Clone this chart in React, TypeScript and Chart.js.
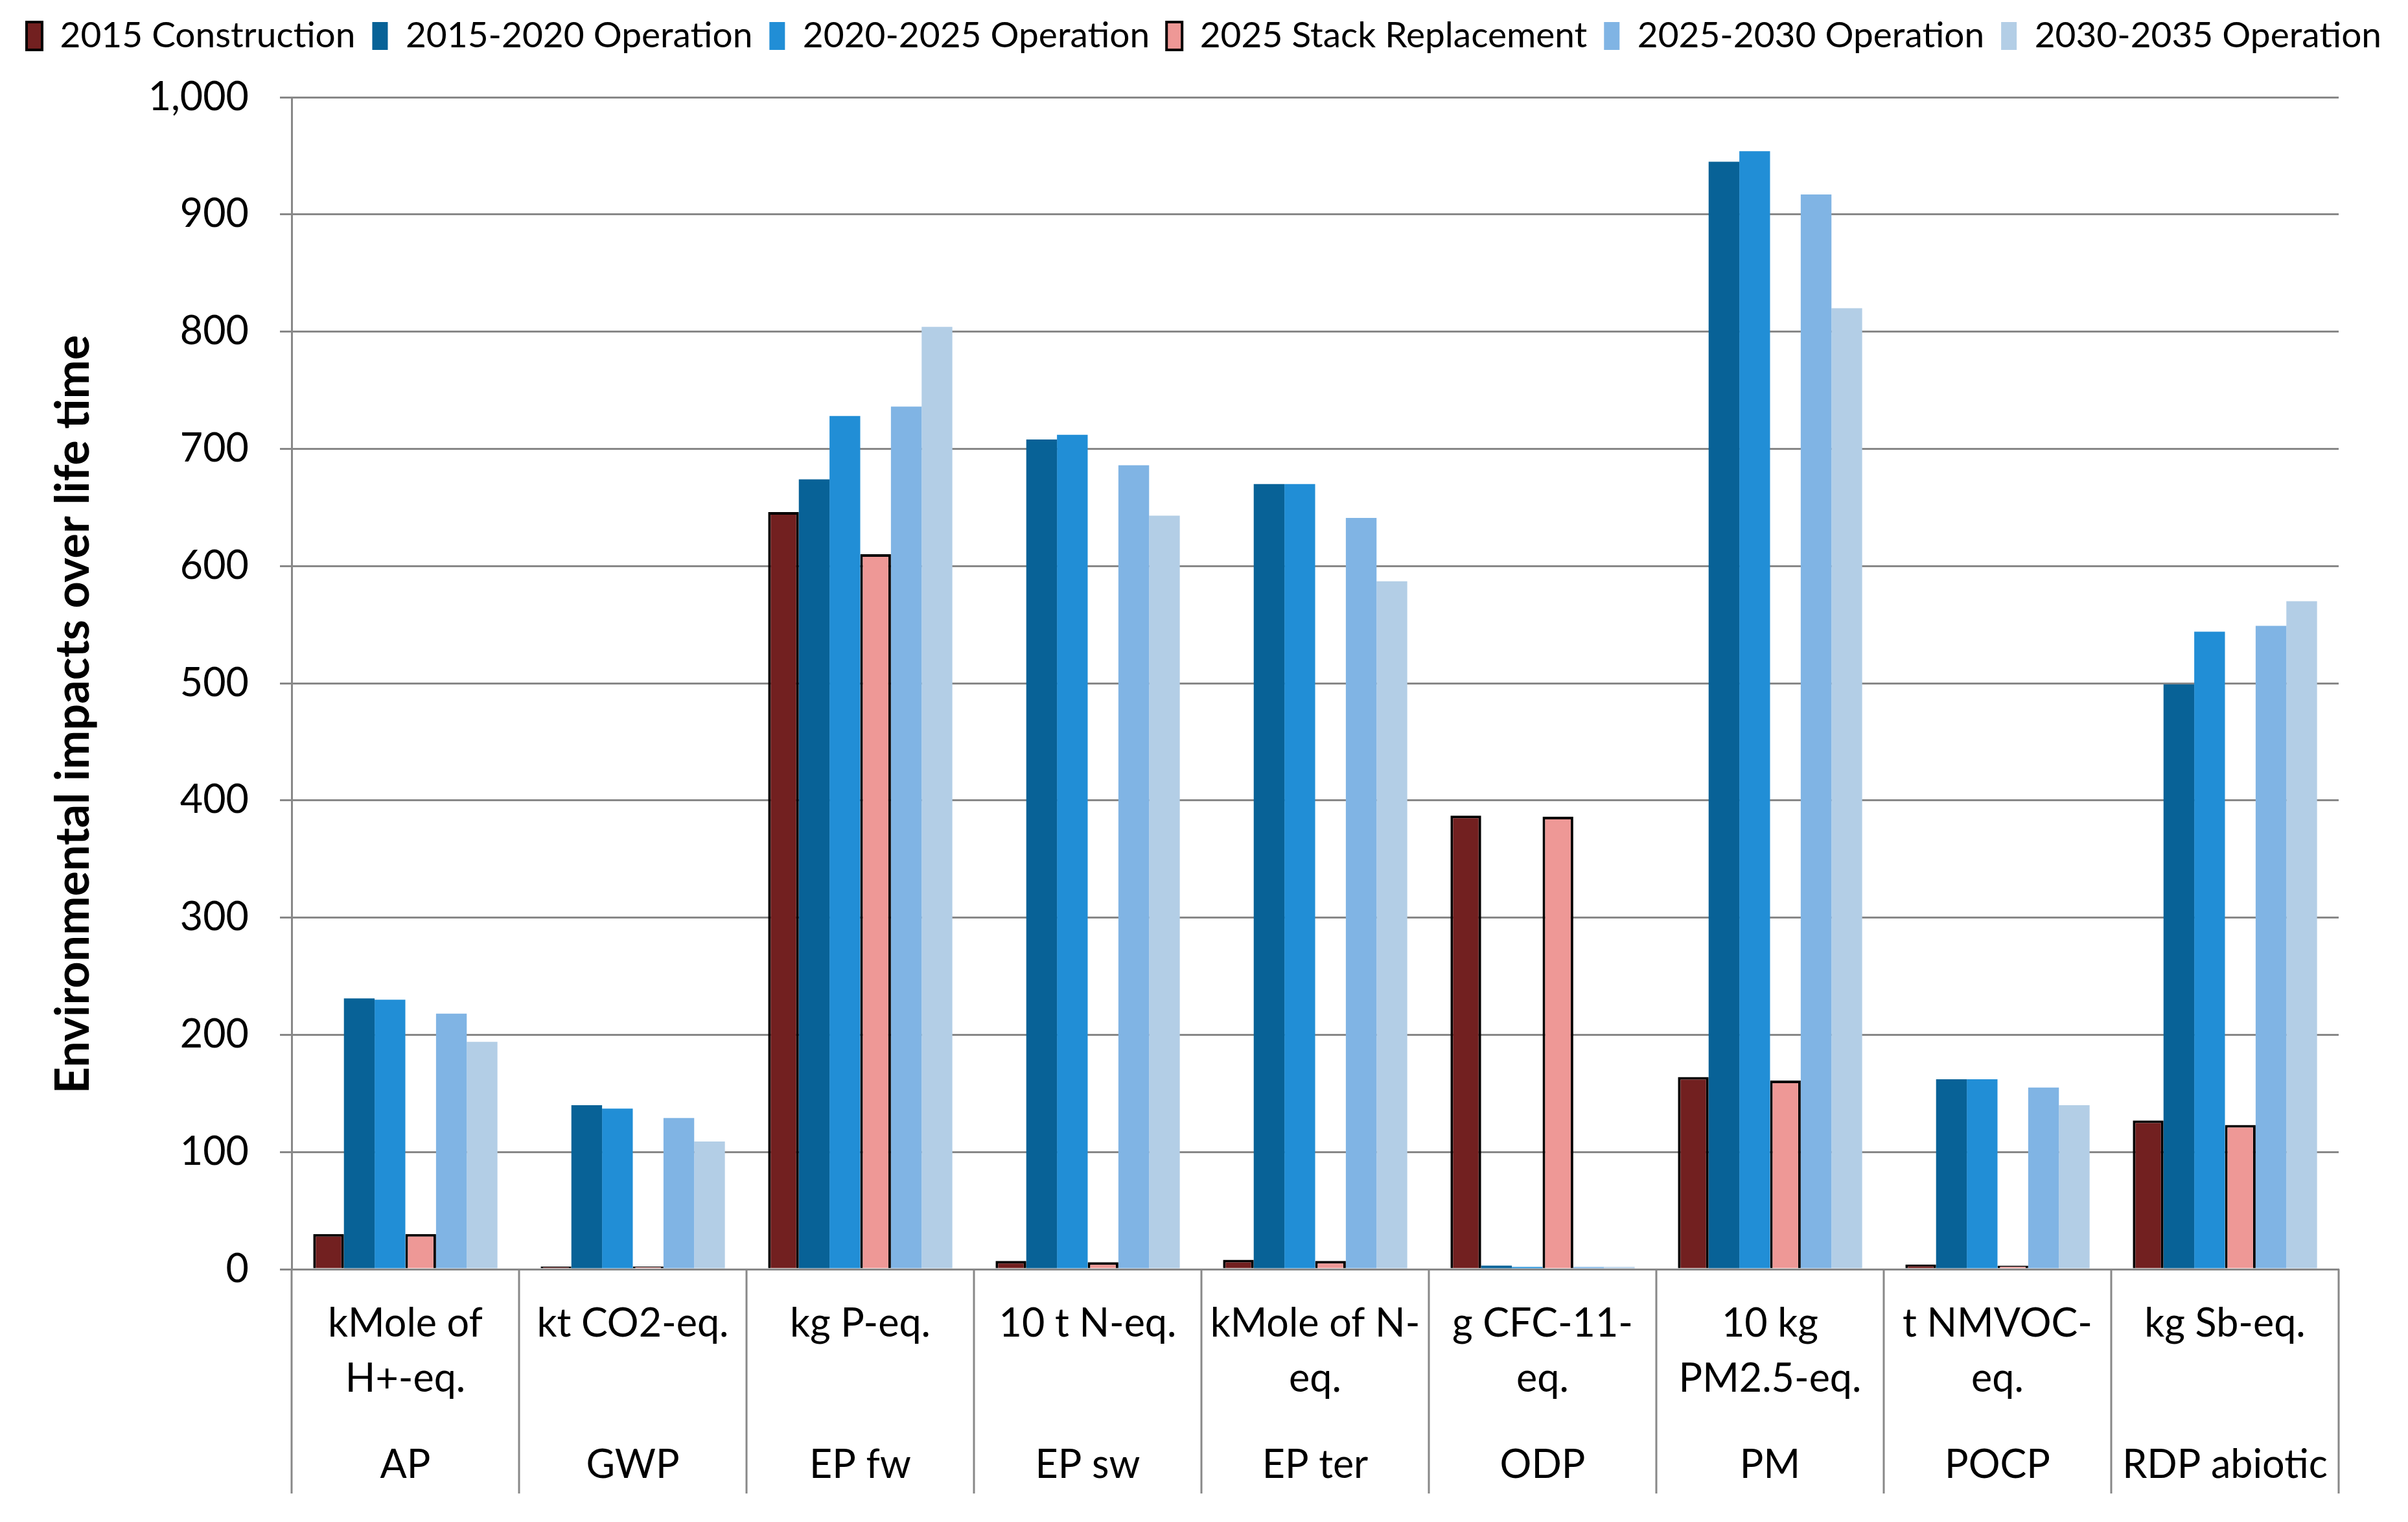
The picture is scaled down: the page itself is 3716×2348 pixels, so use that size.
import React, { useEffect, useRef } from "react";
import { Chart, registerables } from "chart.js";

Chart.register(...registerables);

const W = 3716;
const H = 2348;

const categories = ["AP", "GWP", "EP fw", "EP sw", "EP ter", "ODP", "PM", "POCP", "RDP abiotic"];
const unitLabels = [
  ["kMole of", "H+-eq."],
  ["kt CO2-eq."],
  ["kg P-eq."],
  ["10 t N-eq."],
  ["kMole of N-", "eq."],
  ["g CFC-11-", "eq."],
  ["10 kg", "PM2.5-eq."],
  ["t NMVOC-", "eq."],
  ["kg Sb-eq."],
];

const seriesNames = [
  "2015 Construction",
  "2015-2020 Operation",
  "2020-2025 Operation",
  "2025 Stack Replacement",
  "2025-2030 Operation",
  "2030-2035 Operation",
];

const construction2015 = [30, 1, 646, 7, 8, 387, 164, 4, 127];
const operation2015_2020 = [231, 140, 674, 708, 670, 3, 945, 162, 499];
const operation2020_2025 = [230, 137, 728, 712, 670, 2, 954, 162, 544];
const stackReplacement2025 = [30, 1, 610, 6, 7, 386, 161, 3, 123];
const operation2025_2030 = [218, 129, 736, 686, 641, 2, 917, 155, 549];
const operation2030_2035 = [194, 109, 804, 643, 587, 2, 820, 140, 570];

const yMin = 0;
const yMax = 1000;
const yStep = 100;
const yTitle = "Environmental impacts over life time";

const seriesColors = ["#722020", "#086297", "#218ED6", "#EE9896", "#80B4E4", "#B3CEE6"];
const seriesBordered = [true, false, false, true, false, false];

const FONT = "Lato";
const GRID = "#888888";

export default function App() {
  const ref = useRef<HTMLCanvasElement | null>(null);

  useEffect(() => {
    document.body.style.margin = "0";
    const canvas = ref.current;
    if (!canvas) return;

    const values = [
      construction2015,
      operation2015_2020,
      operation2020_2025,
      stackReplacement2025,
      operation2025_2030,
      operation2030_2035,
    ];

    const legendSpace = {
      id: "legendSpace",
      beforeLayout(chart: any) {
        const lg = chart.legend;
        if (lg && !lg.__wrapped) {
          const orig = lg.fit;
          lg.fit = function () {
            orig.call(this);
            this.height = 148;
          };
          lg.__wrapped = true;
        }
      },
    };

    const extras = {
      id: "extras",
      afterDraw(chart: any) {
        const x = chart.scales.x;
        const x2 = chart.scales.x2;
        const ctx = chart.ctx;
        const area = chart.chartArea;
        ctx.save();
        ctx.strokeStyle = GRID;
        ctx.lineWidth = 3;
        for (let i = 0; i <= categories.length; i++) {
          const px = x.getPixelForValue(i - 0.5);
          ctx.beginPath();
          ctx.moveTo(px, area.bottom);
          ctx.lineTo(px, x2.bottom);
          ctx.stroke();
        }
        ctx.restore();

        ctx.save();
        ctx.translate(114, (area.top + area.bottom) / 2 + 48);
        ctx.rotate(-Math.PI / 2);
        ctx.font = `bold 72px ${FONT}`;
        ctx.fillStyle = "#000000";
        ctx.textAlign = "center";
        ctx.textBaseline = "middle";
        ctx.fillText(yTitle, 0, 0);
        ctx.restore();
      },
    };

    const chart = new Chart(canvas, {
      type: "bar",
      data: {
        labels: categories,
        datasets: seriesNames.map((name, i) => ({
          label: name,
          data: values[i],
          backgroundColor: seriesColors[i],
          borderColor: "#000000",
          borderWidth: seriesBordered[i] ? 4 : 0,
          minBarLength: seriesBordered[i] ? 4 : 0,
          categoryPercentage: 0.81,
          barPercentage: 1.0,
          xAxisID: "x",
          yAxisID: "y",
        })),
      },
      options: {
        responsive: false,
        animation: false,
        devicePixelRatio: 1,
        layout: { padding: { top: 2, left: 0, right: 0, bottom: 44 } },
        plugins: {
          legend: {
            position: "top",
            labels: {
              font: { family: FONT, size: 55 },
              color: "#000000",
              boxWidth: 24,
              boxHeight: 43,
              padding: 26,
            },
          },
          tooltip: { enabled: false },
        },
        scales: {
          x: {
            type: "category",
            position: "bottom",
            weight: 0,
            offset: true,
            grid: { display: false, drawTicks: false, offset: true },
            border: { display: true, color: GRID, width: 3 },
            ticks: {
              color: "#000000",
              font: { family: FONT, size: 61, lineHeight: 1.39 },
              padding: 42,
              maxRotation: 0,
              minRotation: 0,
              autoSkip: false,
              callback: (_v: any, i: number) => unitLabels[i],
            },
            afterFit: (s: any) => {
              s.height = 230;
            },
          },
          x2: {
            type: "category",
            position: "bottom",
            weight: 1,
            labels: categories,
            offset: true,
            grid: { display: false, drawTicks: false, offset: true },
            border: { display: false },
            ticks: {
              color: "#000000",
              font: { family: FONT, size: 61, lineHeight: 1.39 },
              padding: 30,
              maxRotation: 0,
              minRotation: 0,
              autoSkip: false,
            },
            afterFit: (s: any) => {
              s.height = 116;
            },
          },
          y: {
            type: "linear",
            position: "left",
            min: yMin,
            max: yMax,
            grid: { color: GRID, lineWidth: 3, drawTicks: true, tickLength: 18 },
            border: { display: true, color: GRID, width: 3 },
            ticks: {
              stepSize: yStep,
              color: "#000000",
              font: { family: FONT, size: 61 },
              padding: 48,
              callback: (v: any) => Number(v).toLocaleString("en-US"),
            },
            title: { display: false },
            afterFit: (s: any) => {
              s.width = 450;
            },
          },
          yRight: {
            type: "linear",
            position: "right",
            display: true,
            grid: { display: false, drawTicks: false },
            border: { display: false },
            ticks: { display: false },
            afterFit: (s: any) => {
              s.width = 107;
            },
          },
        },
      },
      plugins: [legendSpace, extras],
    } as any);

    return () => chart.destroy();
  }, []);

  return (
    <div style={{ width: W, height: H, background: "#ffffff" }}>
      <canvas ref={ref} width={W} height={H} style={{ display: "block", width: W, height: H }} />
    </div>
  );
}
